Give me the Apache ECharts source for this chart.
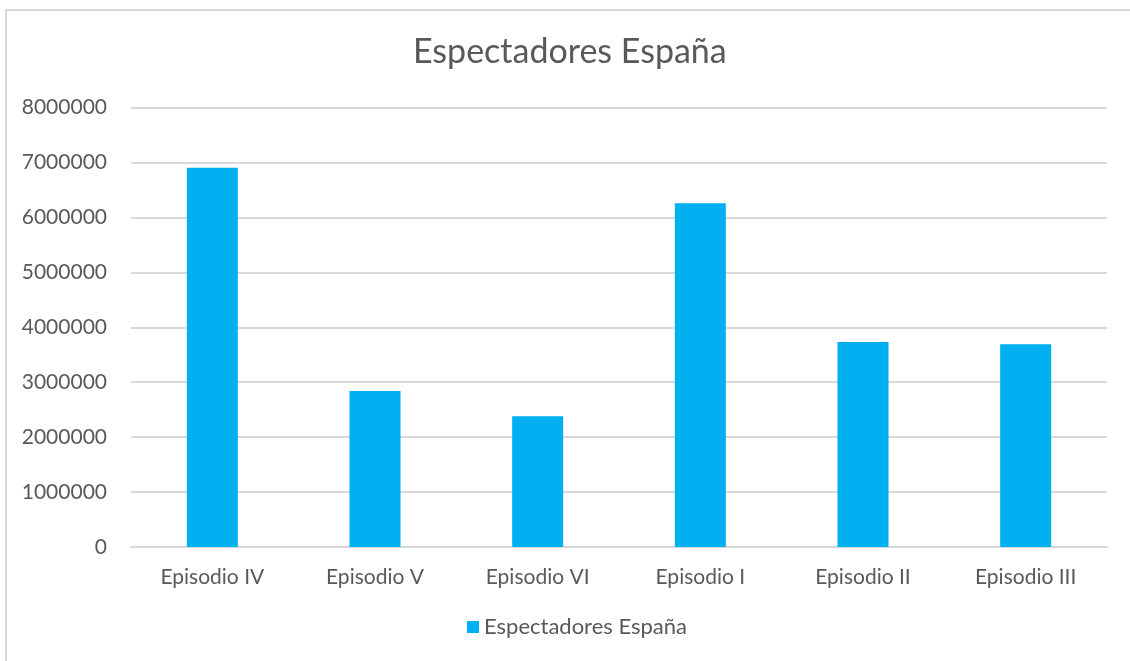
<!DOCTYPE html>
<html>
<head>
<meta charset="utf-8">
<script src="https://cdn.jsdelivr.net/npm/echarts@6/dist/echarts.min.js"></script>
<style>
  html, body { margin: 0; padding: 0; background: #fff; }
  #chart { width: 1130px; height: 661px; }
</style>
</head>
<body>
<div id="chart"></div>
<script>
// data
var episodios = ['Episodio IV', 'Episodio V', 'Episodio VI', 'Episodio I', 'Episodio II', 'Episodio III'];
var espectadores = [6904000, 2840000, 2379000, 6256000, 3731000, 3689000];
var serieNombre = 'Espectadores España';

var myChart = echarts.init(document.getElementById('chart'));
var font = 'Lato, "Open Sans", sans-serif';

myChart.setOption({
    animation: false,
    backgroundColor: '#fff',
    graphic: [{
        type: 'rect',
        shape: {x: 6, y: 10, width: 1200, height: 700},
        style: {fill: 'none', stroke: '#d9d9d9', lineWidth: 2},
        silent: true
    }],
    title: {
        text: 'Espectadores España',
        left: 408,
        top: 30,
        textStyle: {fontFamily: font, fontSize: 34, fontWeight: 'normal', color: '#595959'}
    },
    legend: {
        bottom: 18,
        left: 462,
        itemWidth: 12,
        itemHeight: 12,
        itemGap: 7,
        icon: 'rect',
        textStyle: {fontFamily: font, fontSize: 22, color: '#595959'},
        data: [serieNombre]
    },
    grid: {left: 131, right: 23, top: 107.5, bottom: 114, containLabel: false},
    xAxis: {
        type: 'category',
        data: episodios,
        axisTick: {show: false},
        axisLine: {lineStyle: {color: '#d9d9d9', width: 2}},
        axisLabel: {fontFamily: font, fontSize: 21, color: '#595959', margin: 20}
    },
    yAxis: {
        type: 'value',
        min: 0,
        max: 8000000,
        interval: 1000000,
        axisLine: {show: false},
        axisTick: {show: false},
        splitLine: {lineStyle: {color: '#d9d9d9', width: 2}},
        axisLabel: {
            fontFamily: font, fontSize: 21, color: '#595959', margin: 24,
            formatter: function (v) { return String(v); }
        }
    },
    series: [{
        name: serieNombre,
        type: 'bar',
        data: espectadores,
        barWidth: 51,
        itemStyle: {color: '#00B0F0'}
    }]
});
</script>
</body>
</html>
